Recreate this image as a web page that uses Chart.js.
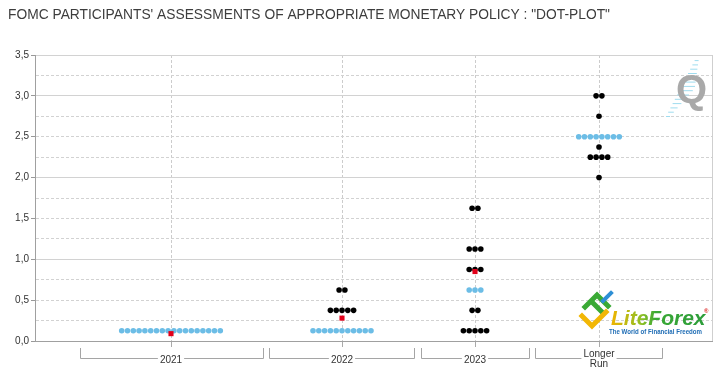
<!DOCTYPE html>
<html>
<head>
<meta charset="utf-8">
<script src="https://cdn.jsdelivr.net/npm/chart.js@4/dist/chart.umd.min.js"></script>
<style>
	html, body { margin: 0; padding: 0; background: #fff; }
	#wrap { width: 720px; height: 368px; }
</style>
</head>
<body>
<div id="wrap"><canvas id="dotplot" width="720" height="368"></canvas></div>
<script>
var title = 'FOMC PARTICIPANTS\' ASSESSMENTS OF APPROPRIATE MONETARY POLICY : "DOT-PLOT"';
var categories = ["2021", "2022", "2023", ["Longer", "Run"]];
var yTicks = [0, 0.5, 1, 1.5, 2, 2.5, 3, 3.5];

// rate level (%) and number of participants at that level
var levels2021 = [0.125];
var counts2021 = [18];
var levels2022 = [0.125, 0.375, 0.625];
var counts2022 = [11, 5, 2];
var levels2023 = [0.125, 0.375, 0.625, 0.875, 1.125, 1.625];
var counts2023 = [5, 2, 3, 3, 3, 2];
var levelsLonger = [2.0, 2.25, 2.375, 2.5, 2.75, 3.0];
var countsLonger = [1, 4, 1, 8, 1, 2];

var medians = [0.125, 0.125, 0.625, 2.5]; // row drawn in blue
var means = [0.09, 0.28, 0.85, null]; // red marker

// layout of the horizontal axis (plot units = px from the y axis)
var xMax = 677;
var colCenter = [136, 307, 440, 564];
var colBracket = [[45, 228], [234, 379], [386, 494], [500, 627]];
var dotGap = 5.8;

var allLevels = [levels2021, levels2022, levels2023, levelsLonger];
var allCounts = [counts2021, counts2022, counts2023, countsLonger];

function rowPoints(center, level, n) {
	var pts = [];
	for (var i = 0; i < n; i++) {
		pts.push({ x: center + (i - (n - 1) / 2) * dotGap, y: level });
	}
	return pts;
}

var blackDots = [];
var blueDots = [];
for (var c = 0; c < categories.length; c++) {
	for (var r = 0; r < allLevels[c].length; r++) {
		var pts = rowPoints(colCenter[c], allLevels[c][r], allCounts[c][r]);
		if (allLevels[c][r] === medians[c]) blueDots = blueDots.concat(pts);
		else blackDots = blackDots.concat(pts);
	}
}
var redDots = [];
for (var m = 0; m < means.length; m++) {
	if (means[m] !== null) redDots.push({ x: colCenter[m], y: means[m] });
}

var decor = {
	id: "decor",
	afterDraw: function (chart) {
		var ctx = chart.ctx;
		var xs = chart.scales.x;
		ctx.save();

		// title
		ctx.font = '14px "Liberation Sans Narrow", "Liberation Sans", sans-serif';
		ctx.fillStyle = "#3d3d3d";
		ctx.textBaseline = "middle";
		ctx.textAlign = "left";
		var tw = ctx.measureText(title).width;
		ctx.save();
		ctx.translate(8, 15);
		ctx.scale(602 / tw, 1);
		ctx.fillText(title, 0, 0);
		ctx.restore();

		// right border
		ctx.strokeStyle = "#cfcfcf";
		ctx.lineWidth = 1;
		ctx.beginPath();
		ctx.moveTo(chart.chartArea.right + 0.5, chart.chartArea.top);
		ctx.lineTo(chart.chartArea.right + 0.5, chart.chartArea.bottom);
		ctx.stroke();

		// category brackets
		ctx.font = '10px "Liberation Sans", sans-serif';
		ctx.fillStyle = "#333";
		ctx.textAlign = "center";
		ctx.strokeStyle = "#a5a5a5";
		var lineY = 358.5;
		for (var i = 0; i < categories.length; i++) {
			var l = Math.round(xs.getPixelForValue(colBracket[i][0])) + 0.5;
			var rr = Math.round(xs.getPixelForValue(colBracket[i][1])) + 0.5;
			var mid = xs.getPixelForValue(colCenter[i]);
			var lab = categories[i];
			var w;
			if (Array.isArray(lab)) {
				w = Math.max(ctx.measureText(lab[0]).width, ctx.measureText(lab[1]).width);
				ctx.fillText(lab[0], mid, 354);
				ctx.fillText(lab[1], mid, 364);
			} else {
				w = ctx.measureText(lab).width;
				ctx.fillText(lab, mid, 360);
			}
			ctx.beginPath();
			ctx.moveTo(l, 348);
			ctx.lineTo(l, lineY);
			ctx.lineTo(mid - w / 2 - 2, lineY);
			ctx.moveTo(mid + w / 2 + 2, lineY);
			ctx.lineTo(rr, lineY);
			ctx.lineTo(rr, 348);
			ctx.stroke();
		}

		// "Q" watermark
		ctx.strokeStyle = "#9fdcef";
		ctx.lineWidth = 1;
		for (var k = 0; k < 14; k++) {
			var hy = 116 - k * 4.3;
			var hx = 666 + k * 2.2;
			var len = 4 + Math.min(k, 13 - k) * 1.6;
			ctx.beginPath();
			ctx.moveTo(hx, hy + 0.5);
			ctx.lineTo(hx + len, hy + 0.5);
			ctx.stroke();
		}
		ctx.font = 'bold 40px "Liberation Sans", sans-serif';
		ctx.fillStyle = "#a9a9a9";
		ctx.textAlign = "left";
		ctx.textBaseline = "alphabetic";
		ctx.fillText("Q", 676, 103);

		// LiteForex logo
		ctx.lineCap = "square";
		ctx.lineJoin = "miter";
		ctx.lineWidth = 5;
		ctx.strokeStyle = "#3aa935";
		ctx.beginPath();
		ctx.moveTo(585, 307);
		ctx.lineTo(597, 295);
		ctx.lineTo(608, 306);
		ctx.moveTo(591, 301);
		ctx.lineTo(603, 313);
		ctx.stroke();
		ctx.strokeStyle = "#f2b705";
		ctx.beginPath();
		ctx.moveTo(582, 316);
		ctx.lineTo(592, 326);
		ctx.lineTo(606, 312);
		ctx.stroke();
		ctx.strokeStyle = "#2d8fd5";
		ctx.lineWidth = 4;
		ctx.beginPath();
		ctx.moveTo(603, 301);
		ctx.lineTo(611, 293);
		ctx.stroke();

		ctx.font = 'italic bold 21px "Liberation Sans", sans-serif';
		var g = ctx.createLinearGradient(611, 0, 700, 0);
		g.addColorStop(0, "#f0b400");
		g.addColorStop(0.35, "#8cbf26");
		g.addColorStop(0.5, "#3aa935");
		g.addColorStop(1, "#2e9e3a");
		ctx.fillStyle = g;
		ctx.fillText("LiteForex", 611, 325);
		ctx.font = 'bold 6px "Liberation Sans", sans-serif';
		ctx.fillStyle = "#d22";
		ctx.fillText("\u00AE", 704, 313);
		ctx.font = 'bold 7px "Liberation Sans", sans-serif';
		ctx.fillStyle = "#1f6db5";
		var tg = "The World of Financial Freedom";
		var tgw = ctx.measureText(tg).width;
		ctx.save();
		ctx.translate(609, 334);
		ctx.scale(93 / tgw, 1);
		ctx.fillText(tg, 0, 0);
		ctx.restore();

		ctx.restore();
	}
};

function isLabelTick(v) {
	return Math.abs(v * 2 - Math.round(v * 2)) < 1e-6;
}

var chart = new Chart(document.getElementById("dotplot").getContext("2d"), {
	type: "scatter",
	data: {
		datasets: [
			{
				label: "mean",
				data: redDots,
				pointStyle: "rect",
				pointRadius: 3.6,
				pointBackgroundColor: "#e2001a",
				pointBorderWidth: 0,
				order: 0,
			},
			{
				label: "median row",
				data: blueDots,
				pointRadius: 2.8,
				pointBackgroundColor: "#6cbde6",
				pointBorderWidth: 0,
				order: 1,
			},
			{
				label: "participants",
				data: blackDots,
				pointRadius: 2.8,
				pointBackgroundColor: "#000",
				pointBorderWidth: 0,
				order: 1,
			},
		],
	},
	options: {
		responsive: false,
		animation: false,
		layout: { padding: { left: 0, right: 8, top: 55, bottom: 0 } },
		plugins: {
			legend: { display: false },
			tooltip: { enabled: false },
			title: { display: false },
		},
		scales: {
			x: {
				type: "linear",
				min: 0,
				max: xMax,
				afterBuildTicks: function (scale) {
					scale.ticks = colCenter.map(function (v) { return { value: v }; });
				},
				afterFit: function (scale) {
					scale.height = 27;
				},
				ticks: { display: false },
				grid: {
					color: "#cccccc",
					tickColor: "#aaaaaa",
					tickLength: 6,
				},
				border: { color: "#a0a0a0", dash: [3, 2] },
			},
			y: {
				min: 0,
				max: 3.5,
				afterBuildTicks: function (scale) {
					var t = [];
					for (var v = 0; v <= 3.5001; v += 0.25) t.push({ value: Math.round(v * 100) / 100 });
					scale.ticks = t;
				},
				afterFit: function (scale) {
					scale.width = 35;
				},
				ticks: {
					autoSkip: false,
					padding: 2,
					color: "#333",
					font: { family: '"Liberation Sans", sans-serif', size: 10 },
					callback: function (v) {
						return yTicks.indexOf(v) >= 0 ? v.toFixed(1).replace(".", ",") : "";
					},
				},
				grid: {
					color: "#d2d2d2",
					tickLength: 4,
					tickColor: function (ctx) {
						return ctx.tick && isLabelTick(ctx.tick.value) ? "#999" : "rgba(0,0,0,0)";
					},
				},
				border: {
					color: "#a0a0a0",
					dash: function (ctx) {
						if (!ctx.tick) return [];
						var v = ctx.tick.value;
						return v % 1 === 0 || v === 3.5 ? [] : [3, 2];
					},
				},
			},
		},
	},
	plugins: [decor],
});
</script>
</body>
</html>
